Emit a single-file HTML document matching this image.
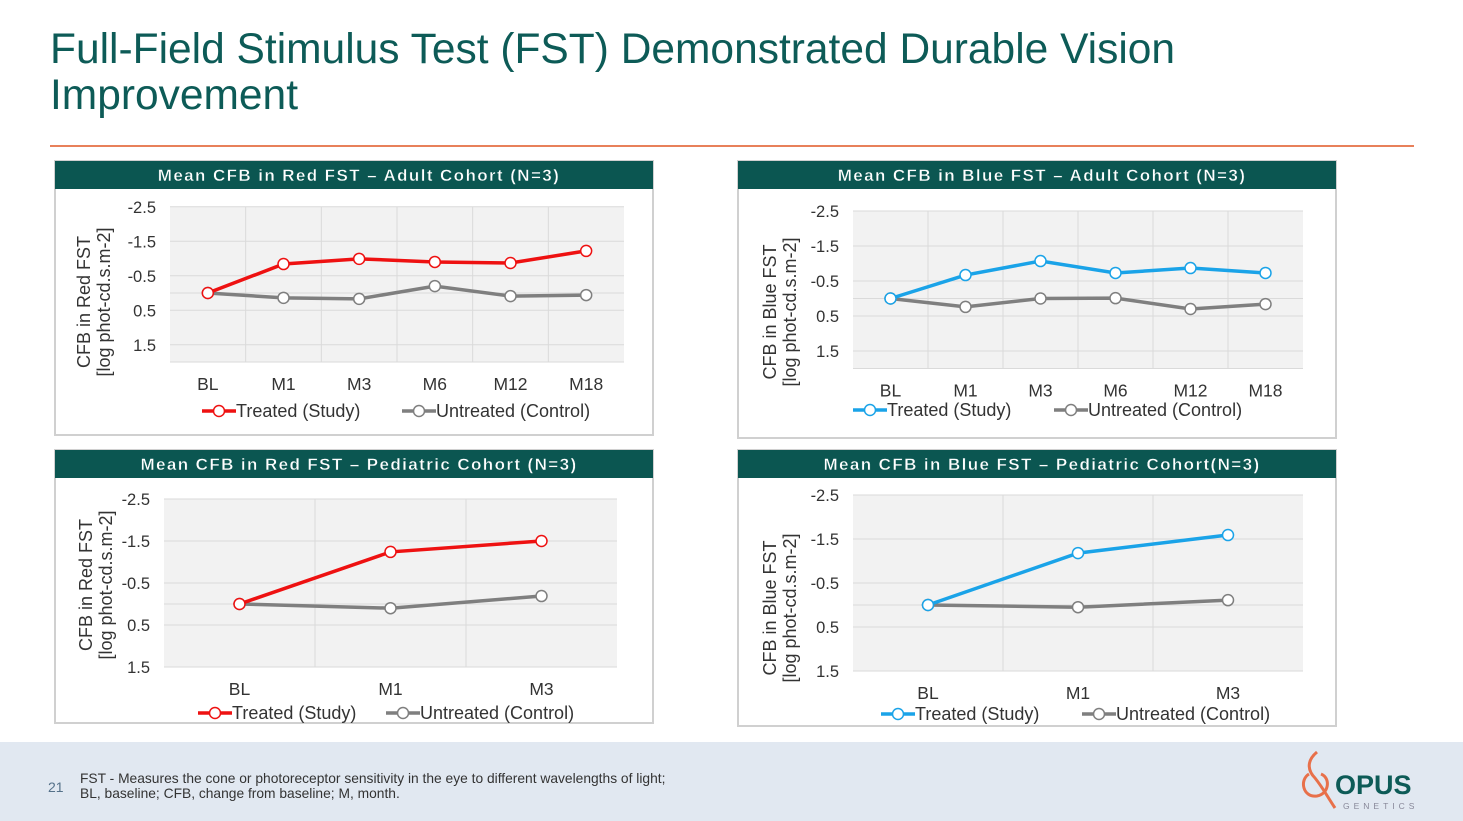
<!DOCTYPE html>
<html><head><meta charset="utf-8">
<style>
html,body{margin:0;padding:0;background:#fff;}
body{width:1463px;height:821px;position:relative;overflow:hidden;font-family:"Liberation Sans",Arial,sans-serif;}
#title{position:absolute;left:50px;top:27px;margin:0;font-size:42.5px;line-height:46px;font-weight:normal;color:#0d5b57;}
#rule{position:absolute;left:50px;top:145px;width:1364px;height:2px;background:#e8805a;}
#footer{position:absolute;left:0;top:742px;width:1463px;height:79px;background:#e1e8f1;}
#pnum{position:absolute;left:48px;top:779px;font-size:14px;color:#55718a;}
#fnote{position:absolute;left:80px;top:771px;font-size:13.8px;line-height:15px;color:#333;letter-spacing:0;}
svg text{font-family:"Liberation Sans",Arial,sans-serif;}
</style></head><body>
<h1 id="title">Full-Field Stimulus Test (FST) Demonstrated Durable Vision<br>Improvement</h1>
<div id="rule"></div>
<svg id="charts" width="1463" height="742" style="position:absolute;left:0;top:0"></svg>
<div id="footer"></div>
<div id="pnum">21</div>
<div id="fnote">FST - Measures the cone or photoreceptor sensitivity in the eye to different wavelengths of light;<br>BL, baseline; CFB, change from baseline; M, month.</div>
<svg width="140" height="70" style="position:absolute;left:1295px;top:748px" viewBox="0 0 140 70">
<path d="M22 4 C10 14 14 24 20 30 C28 40 32 48 40 60" stroke="#e8704a" stroke-width="3" fill="none"/>
<path d="M14 26 C4 32 8 50 22 48 C34 46 36 30 26 26" stroke="#e8704a" stroke-width="3" fill="none"/>
<text x="40" y="46" font-family="Liberation Serif,serif" font-weight="bold" font-size="27" fill="#0d5b57">OPUS</text>
<text x="48" y="61" font-size="8.5" letter-spacing="4" fill="#889">GENETICS</text>
</svg>
<script>
// Chart 1: Red FST adult
const c1Categories = ["BL","M1","M3","M6","M12","M18"];
const c1Treated = [0, -0.84, -0.99, -0.9, -0.87, -1.22];
const c1Untreated = [0, 0.14, 0.17, -0.2, 0.09, 0.06];
// Chart 2: Blue FST adult
const c2Categories = ["BL","M1","M3","M6","M12","M18"];
const c2Treated = [0, -0.67, -1.07, -0.73, -0.87, -0.73];
const c2Untreated = [0, 0.24, 0, -0.01, 0.3, 0.16];
// Chart 3: Red FST pediatric
const c3Categories = ["BL","M1","M3"];
const c3Treated = [0, -1.24, -1.5];
const c3Untreated = [0, 0.1, -0.19];
// Chart 4: Blue FST pediatric
const c4Categories = ["BL","M1","M3"];
const c4Treated = [0, -1.18, -1.59];
const c4Untreated = [0, 0.05, -0.11];
const yTickLabels = ["-2.5","-1.5","-0.5","0.5","1.5"];
const yTickValues = [-2.5,-1.5,-0.5,0.5,1.5];

const NS="http://www.w3.org/2000/svg";
const svg=document.getElementById('charts');
function mk(tag,attrs,parent){const e=document.createElementNS(NS,tag);for(const k in attrs)e.setAttribute(k,attrs[k]);(parent||svg).appendChild(e);return e;}

function chart(cfg,cats,tr,un){
  const g=mk('g',{});
  
  
  const box=mk('rect',{x:cfg.bx,y:cfg.by,width:598,height:cfg.bh,fill:'#fff',stroke:'#d0d0d0','stroke-width':2},g);
  
  
  const hd=mk('rect',{x:cfg.bx,y:cfg.by,width:598,height:28,fill:'#0b5651'},g);
  
  
  const ht=mk('text',{x:cfg.bx+304,y:cfg.by+20,'text-anchor':'middle','font-size':17,'font-weight':'bold',fill:'#fff','letter-spacing':1.4,'stroke':'#0b5651','stroke-width':0.4},g);
  ht.textContent=cfg.title;
  
  
  const [x0,x1]=cfg.px;
  const y=v=>cfg.zeroY+v*cfg.unit;
  const bw=(x1-x0)/cats.length;
  const x=i=>x0+bw*(i+0.5);
  const top=y(-2.5), bot=y(cfg.yMax);
  const pa=mk('rect',{x:x0,y:top,width:x1-x0,height:bot-top,fill:'#f2f2f2'},g);
  
  
  const gl=yTickValues.concat([0,cfg.yMax]);
  gl.forEach(v=>{const l=mk('line',{x1:x0,x2:x1,y1:y(v),y2:y(v),stroke:'#dadada','stroke-width':1},g);
    
    });
  for(let i=1;i<cats.length;i++){const l=mk('line',{x1:x0+bw*i,x2:x0+bw*i,y1:top,y2:bot,stroke:'#dadada'},g);
    
    }
  yTickValues.forEach((v,i)=>{const t=mk('text',{x:x0-14,y:y(v)+6,'text-anchor':'end','font-size':16.5,fill:'#333'},g);
    t.textContent=yTickLabels[i];
    
    });
  cats.forEach((c,i)=>{const t=mk('text',{x:x(i),y:bot+cfg.catDy,'text-anchor':'middle','font-size':17.5,fill:'#333'},g);
    t.textContent=c;
    
    });
  const yt=mk('text',{transform:`translate(${cfg.ylx},${cfg.yly}) rotate(-90)`,'text-anchor':'middle','font-size':18,fill:'#333'},g);
  
  
  const s1=mk('tspan',{x:0,dy:0},yt);s1.textContent=cfg.ylab;
  const s2=mk('tspan',{x:0,dy:20},yt);s2.textContent='[log phot-cd.s.m-2]';
  [[un,'#7f7f7f','untreated'],[tr,cfg.color,'treated']].forEach(([arr,col,nm])=>{
    const p=mk('polyline',{points:arr.map((v,i)=>x(i)+','+y(v)).join(' '),fill:'none',stroke:col,'stroke-width':3.5},g);
    
    
    arr.forEach((v,i)=>{const c=mk('circle',{cx:x(i),cy:y(v),r:5.5,fill:'#fff',stroke:col,'stroke-width':1.5},g);
      
      });
  });
  [[cfg.lg[0],cfg.color,'Treated (Study)'],[cfg.lg[1],'#7f7f7f','Untreated (Control)']].forEach(([lx,col,lab])=>{
    const ly=cfg.lgy;
    const l=mk('line',{x1:lx,x2:lx+34,y1:ly,y2:ly,stroke:col,'stroke-width':3.5},g);
    
    
    mk('circle',{cx:lx+17,cy:ly,r:5.5,fill:'#fff',stroke:col,'stroke-width':1.5},g);
    const t=mk('text',{x:lx+34,y:ly+6,'font-size':18,fill:'#333'},g);
    t.textContent=lab;
    
    
  });
}
chart({name:'red-adult-chart',title:'Mean CFB in Red FST – Adult Cohort (N=3)',bx:55,by:161,bh:274,px:[170,624],zeroY:293,unit:34.5,yMax:2,catDy:28,ylx:90,yly:302,ylab:'CFB in Red FST',color:'#ee1111',lg:[202,402],lgy:411},c1Categories,c1Treated,c1Untreated);
chart({name:'blue-adult-chart',title:'Mean CFB in Blue FST – Adult Cohort (N=3)',bx:738,by:161,bh:277,px:[853,1303],zeroY:298.5,unit:35,yMax:2,catDy:28,ylx:776,yly:312,ylab:'CFB in Blue FST',color:'#1aa3e8',lg:[853,1054],lgy:410},c2Categories,c2Treated,c2Untreated);
chart({name:'red-pediatric-chart',title:'Mean CFB in Red FST – Pediatric Cohort (N=3)',bx:55,by:450,bh:273,px:[164,617],zeroY:604,unit:42,yMax:1.5,catDy:28,ylx:92,yly:585,ylab:'CFB in Red FST',color:'#ee1111',lg:[198,386],lgy:713},c3Categories,c3Treated,c3Untreated);
chart({name:'blue-pediatric-chart',title:'Mean CFB in Blue FST – Pediatric Cohort(N=3)',bx:738,by:450,bh:276,px:[853,1303],zeroY:605,unit:44,yMax:1.5,catDy:28,ylx:776,yly:608,ylab:'CFB in Blue FST',color:'#1aa3e8',lg:[881,1082],lgy:714},c4Categories,c4Treated,c4Untreated);
</script>
</body></html>
